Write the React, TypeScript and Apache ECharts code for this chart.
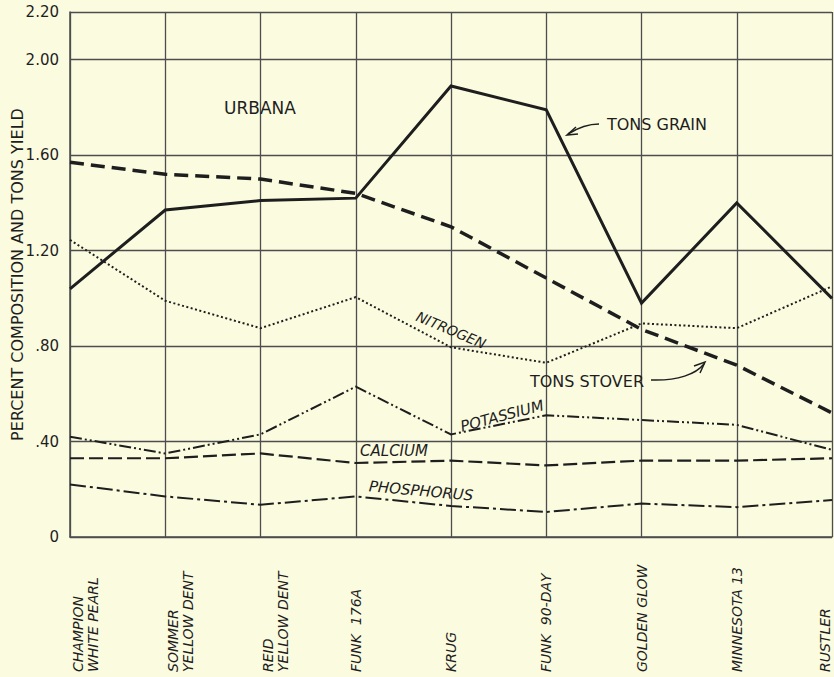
import React, { useEffect, useRef } from "react";
import * as echarts from "echarts";

const categories = [
  "CHAMPION\nWHITE PEARL",
  "SOMMER\nYELLOW DENT",
  "REID\nYELLOW DENT",
  "FUNK  176A",
  "KRUG",
  "FUNK  90-DAY",
  "GOLDEN GLOW",
  "MINNESOTA 13",
  "RUSTLER",
];

const tonsGrain = [1.04, 1.37, 1.41, 1.42, 1.89, 1.79, 0.98, 1.4, 1.0];
const tonsStover = [1.57, 1.52, 1.5, 1.44, 1.3, 1.085, 0.87, 0.72, 0.52];
const nitrogen = [1.245, 0.99, 0.875, 1.005, 0.795, 0.73, 0.895, 0.875, 1.05];
const potassium = [0.42, 0.35, 0.43, 0.63, 0.43, 0.51, 0.49, 0.47, 0.365];
const calcium = [0.33, 0.33, 0.35, 0.31, 0.32, 0.3, 0.32, 0.32, 0.33];
const phosphorus = [0.22, 0.17, 0.135, 0.17, 0.13, 0.105, 0.14, 0.125, 0.155];

const yMin = 0;
const yMax = 2.2;
const yInterval = 0.4;

const INK = "#1e1e1e";
const GRID = "#4d4d4d";
const BG = "#fbfbe0";
const FONT = "DejaVu Sans";

export default function App() {
  const ref = useRef<HTMLDivElement>(null);

  useEffect(() => {
    if (!ref.current) return;
    const chart = echarts.init(ref.current, null, { renderer: "svg" });

    const line = (name: string, data: number[], width: number, type: any) => ({
      name,
      type: "line",
      data,
      symbol: "none",
      z: 5,
      lineStyle: { color: INK, width, type, cap: "butt", join: "miter" },
    });

    const txt = (
      text: string,
      x: number,
      y: number,
      opts: { rotation?: number; italic?: boolean; size?: number } = {}
    ) => ({
      type: "text",
      x,
      y,
      rotation: opts.rotation || 0,
      z: 10,
      style: {
        text,
        fill: INK,
        font: `${opts.italic ? "italic " : ""}${opts.size || 14}px "${FONT}"`,
        textAlign: "center",
        textVerticalAlign: "middle",
      },
    });

    const labelStyle = {
      color: INK,
      fontFamily: FONT,
      fontStyle: "italic",
      fontSize: 14,
      lineHeight: 15,
      align: "left",
    };

    chart.setOption({
      animation: false,
      backgroundColor: BG,
      grid: { left: 70, right: 2, top: 12, bottom: 140, outerBoundsMode: "none", containLabel: false },
      xAxis: {
        type: "category",
        boundaryGap: false,
        data: categories.map((c, i) =>
          c.includes("\n")
            ? { value: c, textStyle: { ...labelStyle, verticalAlign: "top" } }
            : i === categories.length - 1
            ? { value: c, textStyle: { ...labelStyle, verticalAlign: "bottom" } }
            : c
        ),
        axisLine: { show: true, lineStyle: { color: GRID, width: 1.5 } },
        axisTick: { show: false },
        splitLine: { show: true, lineStyle: { color: GRID, width: 1.3 } },
        axisLabel: {
          interval: 0,
          rotate: 90,
          margin: 135,
          ...labelStyle,
        },
      },
      yAxis: {
        type: "value",
        min: yMin,
        max: yMax,
        interval: yInterval,
        name: "PERCENT COMPOSITION AND TONS YIELD",
        nameLocation: "middle",
        nameGap: 45,
        nameMoveOverlap: false,
        nameTextStyle: { color: INK, fontFamily: FONT, fontSize: 16 },
        axisLine: { show: true, lineStyle: { color: GRID, width: 1.5 } },
        axisTick: { show: false },
        splitLine: { show: true, lineStyle: { color: GRID, width: 1.3 } },
        axisLabel: {
          color: INK,
          fontFamily: FONT,
          fontSize: 15,
          margin: 11,
          formatter: (v: number) =>
            v === 0 ? "0" : v < 1 ? v.toFixed(2).slice(1) : v.toFixed(2),
        },
      },
      series: [
        line("Tons grain", tonsGrain, 3, "solid"),
        line("Tons stover", tonsStover, 3.5, [14, 7]),
        line("Nitrogen", nitrogen, 2, [2, 2.5]),
        line("Potassium", potassium, 2, [12, 3, 2, 3, 2, 3]),
        line("Calcium", calcium, 2.2, [14, 5]),
        line("Phosphorus", phosphorus, 2, [16, 4, 3, 4]),
      ],
      graphic: [
        txt("URBANA", 260, 108, { size: 17 }),
        txt("TONS GRAIN", 657, 124, { size: 16 }),
        txt("TONS STOVER", 587, 381, { size: 16 }),
        txt("NITROGEN", 451, 330, { italic: true, rotation: -0.4, size: 14 }),
        txt("POTASSIUM", 502, 416, { italic: true, rotation: 0.26, size: 15 }),
        txt("CALCIUM", 394, 451, { italic: true, size: 15 }),
        txt("PHOSPHORUS", 421, 491, { italic: true, rotation: -0.09, size: 15 }),
        {
          type: "bezierCurve",
          z: 10,
          shape: { x1: 599, y1: 124, cpx1: 584, cpy1: 124, x2: 568, y2: 134 },
          style: { stroke: INK, lineWidth: 1.5, fill: "none" },
        },
        {
          type: "polyline",
          z: 10,
          shape: { points: [[576, 127], [567, 135], [578, 134]] },
          style: { stroke: INK, lineWidth: 1.5, fill: "none" },
        },
        {
          type: "bezierCurve",
          z: 10,
          shape: {
            x1: 651, y1: 380, cpx1: 678, cpy1: 381, cpx2: 696, cpy2: 374, x2: 704, y2: 364,
          },
          style: { stroke: INK, lineWidth: 1.5, fill: "none" },
        },
        {
          type: "polyline",
          z: 10,
          shape: { points: [[694, 366], [705, 362], [700, 373]] },
          style: { stroke: INK, lineWidth: 1.5, fill: "none" },
        },
      ],
    });

    return () => chart.dispose();
  }, []);

  return (
    <div
      ref={ref}
      style={{ position: "fixed", left: 0, top: 0, width: 834, height: 677 }}
    />
  );
}
